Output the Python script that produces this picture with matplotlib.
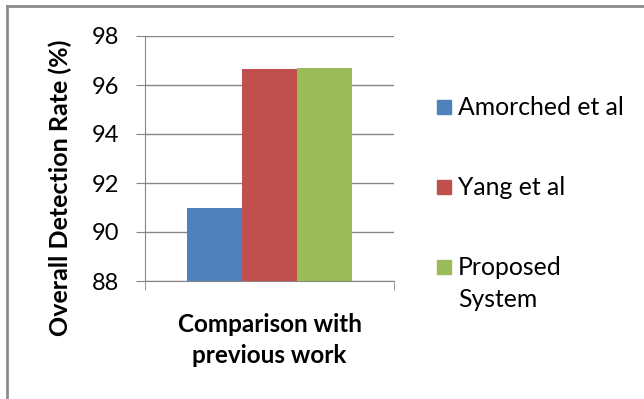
import numpy as np
import matplotlib
matplotlib.use('Agg')
import matplotlib.pyplot as plt
from matplotlib.lines import Line2D
from matplotlib.patches import Rectangle

# datos
categorias = ['Comparison with\nprevious work']
series = ['Amorched et al', 'Yang et al', 'Proposed\nSystem']
valores = [91.0, 96.65, 96.7]
colores = ['#4F81BD', '#C0504D', '#9BBB59']
yticks = [88, 90, 92, 94, 96, 98]

plt.rcParams['font.family'] = ['Lato', 'DejaVu Sans']
gris = '#868686'

fig = plt.figure(figsize=(6.44, 3.99), dpi=100)
ax = fig.add_axes([145/644, 1 - 281/399, 249/644, 245/399])

ancho = 55 / 249
x0 = np.arange(len(categorias))
for i, (nom, val, col) in enumerate(zip(series, valores, colores)):
    ax.bar(x0 + (i - 1) * ancho, [val], width=ancho, color=col,
           label=nom, zorder=3)

ax.set_xlim(-0.5, 0.5)
ax.set_ylim(88, 98)
ax.set_yticks(yticks)
ax.set_yticklabels([str(t) for t in yticks], fontsize=17)
ax.grid(axis='y', color=gris, linewidth=1, zorder=0)
ax.tick_params(axis='y', length=6.5, color=gris, pad=12)

ax.set_xticks(x0)
ax.set_xticklabels(categorias, fontsize=17.5, fontweight='bold', linespacing=1.42)
ax.tick_params(axis='x', which='major', length=0, pad=23)
ax.set_xticks([-0.5, 0.5], minor=True)
ax.tick_params(axis='x', which='minor', length=6.5, color=gris)

for s in ['top', 'right']:
    ax.spines[s].set_visible(False)
for s in ['left', 'bottom']:
    ax.spines[s].set_color(gris)

ax.set_ylabel('Overall Detection Rate (%)', fontsize=18, fontweight='bold',
              va='center')
ax.yaxis.set_label_coords(-0.341, 0.382)

# leyenda a mano (como en Excel)
bases = [115, 195, 275]
salto = 32
for nom, col, yb in zip(series, colores, bases):
    fig.add_artist(Rectangle((437/644, 1 - (yb - 1)/399), 14/644, 14/399,
                             transform=fig.transFigure, color=col))
    for k, linea in enumerate(nom.split('\n')):
        fig.text(458/644, 1 - (yb + k * salto)/399, linea, fontsize=17.8,
                 va='baseline', ha='left')

# marco gris
fig.add_artist(Line2D([7/644, 7/644], [0, 1 - 6/399], color='#8c8c8c', lw=2,
                      transform=fig.transFigure))
fig.add_artist(Line2D([7/644, 1], [1 - 6/399, 1 - 6/399], color='#8c8c8c', lw=2,
                      transform=fig.transFigure))

fig.savefig('out.png', dpi=100)
plt.close(fig)
